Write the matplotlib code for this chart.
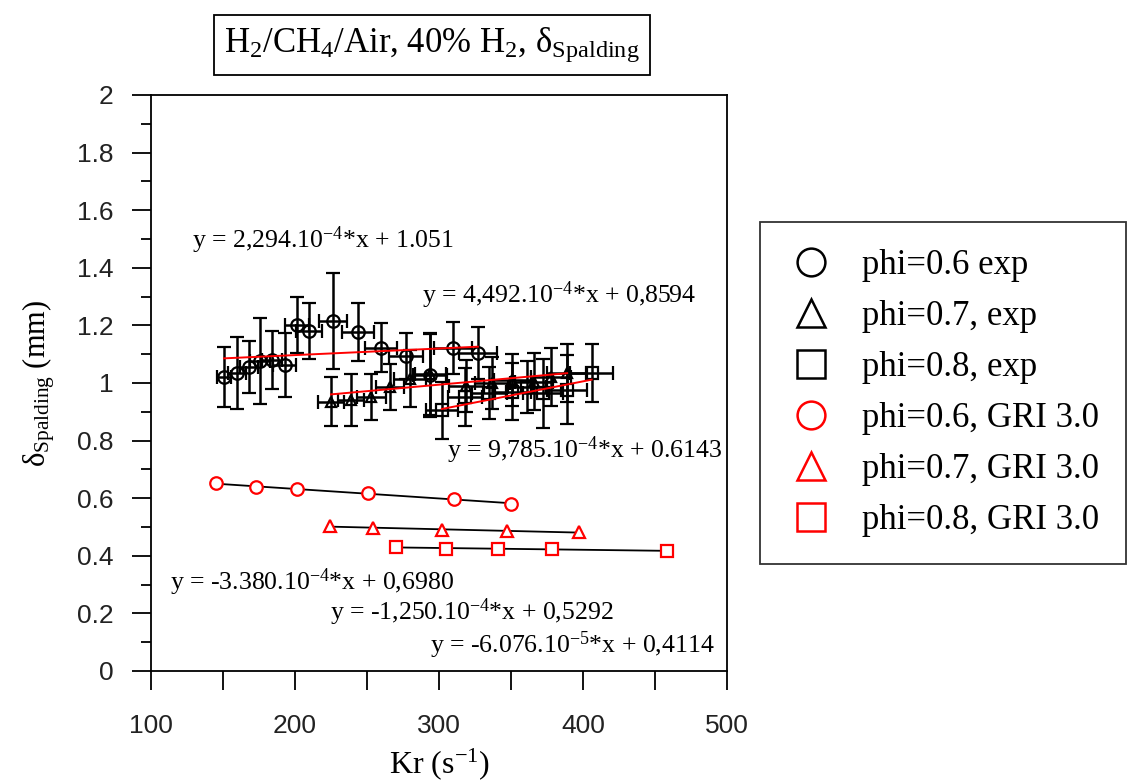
import numpy as np
import matplotlib
matplotlib.use("Agg")
import matplotlib.pyplot as plt
from matplotlib.lines import Line2D
from matplotlib.ticker import MultipleLocator, FuncFormatter

plt.rcParams['mathtext.fontset'] = 'custom'
plt.rcParams['mathtext.rm'] = 'Liberation Serif'
plt.rcParams['mathtext.it'] = 'Liberation Serif:italic'
plt.rcParams['mathtext.default'] = 'rm'

SERIF = 'Liberation Serif'
SANS = 'Liberation Sans'

# Experimental data (Kr in 1/s, delta in mm)
phi06_exp_kr = [150.7, 159.7, 168, 175.7, 184, 193, 201.4, 209.7, 226.4, 243.8, 259.7, 277, 293.8, 309.7, 327]
phi06_exp_d = [1.021, 1.035, 1.056, 1.076, 1.08, 1.062, 1.201, 1.181, 1.215, 1.177, 1.122, 1.094, 1.028, 1.122, 1.104]
phi06_exp_derr = [0.105, 0.125, 0.09, 0.15, 0.10, 0.11, 0.098, 0.097, 0.167, 0.10, 0.085, 0.08, 0.145, 0.09, 0.09]
phi06_exp_kerr = [5, 6, 6, 7, 7, 8, 8, 9, 10, 11, 11, 12, 12, 13, 13]

phi07_exp_kr = [225, 239, 253, 266, 280, 294, 319, 337, 351, 366, 378, 389]
phi07_exp_d = [0.935, 0.940, 0.950, 0.985, 1.015, 1.03, 0.99, 1.00, 1.01, 1.005, 1.02, 1.035]
phi07_exp_derr = [0.085, 0.09, 0.08, 0.08, 0.1, 0.14, 0.09, 0.09, 0.09, 0.1, 0.1, 0.1]
phi07_exp_kerr = [9, 9, 10, 10, 11, 11, 12, 12, 13, 13, 14, 14]

phi08_exp_kr = [302, 318, 335, 351, 361, 372, 389, 406]
phi08_exp_d = [0.905, 0.952, 0.965, 0.970, 0.985, 0.965, 0.976, 1.035]
phi08_exp_derr = [0.1, 0.1, 0.09, 0.1, 0.09, 0.12, 0.12, 0.1]
phi08_exp_kerr = [11, 12, 12, 13, 13, 14, 14, 15]

# Linear fits printed on the chart for the experiments
exp_slopes = [2.294e-4, 4.492e-4, 9.785e-4]
exp_intercepts = [1.051, 0.8594, 0.6143]

# GRI 3.0 computations
phi06_gri_kr = [145.1, 172.6, 201.7, 250.6, 310.2, 350.1]
phi06_gri_d = [0.652, 0.638, 0.632, 0.617, 0.597, 0.581]
phi07_gri_kr = [224.6, 254.4, 302, 347.5, 396.9]
phi07_gri_d = [0.503, 0.497, 0.490, 0.486, 0.482]
phi08_gri_kr = [270.3, 305, 341, 378.4, 458.1]
phi08_gri_d = [0.431, 0.424, 0.424, 0.424, 0.417]

markers = ['o', '^', 's']
legend_labels = ['phi=0.6 exp', 'phi=0.7, exp', 'phi=0.8, exp',
                 'phi=0.6, GRI 3.0', 'phi=0.7, GRI 3.0', 'phi=0.8, GRI 3.0']

fig = plt.figure(figsize=(11.31, 7.82), dpi=100)
ax = fig.add_axes([151 / 1131, 1 - 671 / 782, 576 / 1131, 576 / 782])

# experimental points with error bars and red fit lines
exp_sets = [
    (phi06_exp_kr, phi06_exp_d, phi06_exp_derr, phi06_exp_kerr, 9),
    (phi07_exp_kr, phi07_exp_d, phi07_exp_derr, phi07_exp_kerr, 7),
    (phi08_exp_kr, phi08_exp_d, phi08_exp_derr, phi08_exp_kerr, 8.5),
]
for (kr, d, derr, kerr, ms), m, a, b in zip(exp_sets, markers, exp_slopes, exp_intercepts):
    ax.errorbar(kr, d, yerr=derr, xerr=kerr, fmt=m, ms=ms, mfc='none', mec='black',
                mew=1.6, ecolor='black', elinewidth=1.8, capsize=5, capthick=1.8, zorder=3)
    xs = np.array([min(kr), max(kr)])
    ax.plot(xs, a * xs + b, color='red', lw=1.4, zorder=4)

# GRI points with black least-squares lines
gri_sets = [(phi06_gri_kr, phi06_gri_d, 9), (phi07_gri_kr, phi07_gri_d, 8), (phi08_gri_kr, phi08_gri_d, 9)]
for (kr, d, ms), m in zip(gri_sets, markers):
    p = np.polyfit(kr, d, 1)
    xs = np.array([min(kr), max(kr)])
    ax.plot(xs, np.polyval(p, xs), color='black', lw=1.3, zorder=2)
    ax.plot(kr, d, m, ms=ms, mfc='white', mec='red', mew=1.6, ls='none', zorder=3)

# equations
eq_font = dict(family=SERIF, fontsize=18.5, va='center', ha='left')
ax.text(128.5, 1.497, r'y = 2,294.10$^{-4}$*x + 1.051', **eq_font)
ax.text(288.2, 1.306, r'y = 4,492.10$^{-4}$*x + 0,8594', **eq_font)
ax.text(305.6, 0.767, r'y = 9,785.10$^{-4}$*x + 0.6143', **eq_font)
ax.text(113.2, 0.309, r'y = -3.380.10$^{-4}$*x + 0,6980', **eq_font)
ax.text(224.3, 0.205, r'y = -1,250.10$^{-4}$*x + 0,5292', **eq_font)
ax.text(293.8, 0.090, r'y = -6.076.10$^{-5}$*x + 0,4114', **eq_font)

# axes setup
ax.set_xlim(100, 500)
ax.set_ylim(0, 2)
ax.xaxis.set_major_locator(MultipleLocator(100))
ax.xaxis.set_minor_locator(MultipleLocator(50))
ax.yaxis.set_major_locator(MultipleLocator(0.2))
ax.yaxis.set_minor_locator(MultipleLocator(0.1))
ax.yaxis.set_major_formatter(FuncFormatter(lambda v, pos: '%g' % round(v, 1)))
ax.tick_params(axis='x', which='both', direction='out', length=14, width=1.3, pad=17)
ax.tick_params(axis='y', which='major', direction='out', length=14, width=1.3, pad=13)
ax.tick_params(axis='y', which='minor', direction='out', length=7, width=1.3)
for lab in ax.get_xticklabels() + ax.get_yticklabels():
    lab.set_family(SANS)
    lab.set_fontsize(19)
    lab.set_color('#222222')
for s in ax.spines.values():
    s.set_linewidth(1.3)

ax.set_xlabel(r'Kr (s$^{-1}$)', family=SERIF, fontsize=23, labelpad=6)
ax.set_ylabel(r'$\delta_{\mathrm{Spalding}}$ (mm)', family=SERIF, fontsize=22, labelpad=14)

# title box
fig.text(432 / 1131, 1 - 45 / 782, r'H$_2$/CH$_4$/Air, 40% H$_2$, $\delta_{\mathrm{Spalding}}$',
         family=SERIF, fontsize=25, ha='center', va='center',
         bbox=dict(boxstyle='square,pad=0.3', fc='white', ec='black', lw=1.3))

# legend
handles = []
for i, lab in enumerate(legend_labels):
    col = 'black' if i < 3 else 'red'
    handles.append(Line2D([], [], marker=markers[i % 3], ls='none', ms=20, mfc='none',
                          mec=col, mew=1.8, label=lab))
leg = fig.legend(handles=handles, loc='upper left', bbox_to_anchor=(760 / 1131, 1 - 222 / 782),
                 prop={'family': SERIF, 'size': 25}, frameon=True, fancybox=False,
                 edgecolor='black', borderpad=0.78, labelspacing=0.52, handletextpad=0.75,
                 handlelength=1.4, borderaxespad=0)
leg.get_frame().set_linewidth(1.3)

fig.savefig('out.png', dpi=100)
